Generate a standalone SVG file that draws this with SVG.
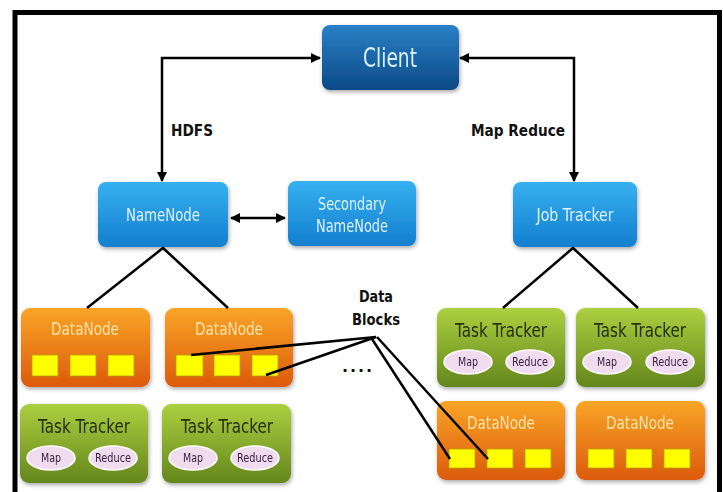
<svg xmlns="http://www.w3.org/2000/svg" width="723" height="492" viewBox="0 0 723 492">
<defs>
<linearGradient id="gClient" x1="0" y1="0" x2="0" y2="1"><stop offset="0" stop-color="#2a80c6"/><stop offset="1" stop-color="#0b4a86"/></linearGradient>
<linearGradient id="gBlue" x1="0" y1="0" x2="0" y2="1"><stop offset="0" stop-color="#36b0f0"/><stop offset="1" stop-color="#137fce"/></linearGradient>
<linearGradient id="gOrange" x1="0" y1="0" x2="0" y2="1"><stop offset="0" stop-color="#f9a526"/><stop offset="1" stop-color="#dc5a0c"/></linearGradient>
<linearGradient id="gGreen" x1="0" y1="0" x2="0" y2="1"><stop offset="0" stop-color="#acd040"/><stop offset="1" stop-color="#64861c"/></linearGradient>
<filter id="sh" x="-10%" y="-10%" width="130%" height="140%"><feGaussianBlur in="SourceAlpha" stdDeviation="2"/><feOffset dx="1" dy="2"/><feComponentTransfer><feFuncA type="linear" slope="0.35"/></feComponentTransfer><feMerge><feMergeNode/><feMergeNode in="SourceGraphic"/></feMerge></filter>
<marker id="ah" viewBox="0 0 10 10" refX="9" refY="5" markerWidth="4" markerHeight="4" orient="auto-start-reverse"><path d="M0,0 L10,5 L0,10 z" fill="#000"/></marker>
</defs>
<style>
.t{font-family:"DejaVu Sans",sans-serif;text-anchor:middle}
.lb{font-family:"DejaVu Sans",sans-serif;font-weight:bold;font-size:16px;fill:#111;text-anchor:middle}
.wb{fill:#dff2ff;font-size:18px}
.ob{fill:#ffe2a6;font-size:18px}
.gb{fill:#26300c;font-size:19px}
.el{fill:#efdcef;stroke:#fff;stroke-width:1.5}
.et{fill:#3a2040;font-size:13px}
.sq{fill:#ffff00;stroke:#b8a000;stroke-width:0.8}
.ln{stroke:#000;stroke-width:2.5;fill:none}
</style>
<rect x="0" y="0" width="723" height="492" fill="#fff"/>
<path d="M15,492 V12.5 H719.5 V492" fill="none" stroke="#000" stroke-width="5"/>

<g id="client" filter="url(#sh)">
<rect x="322" y="25" width="137" height="65" rx="8" fill="url(#gClient)"/>
<text class="t" x="390" y="67" font-size="26" fill="#d9f0ff" textLength="54" lengthAdjust="spacingAndGlyphs">Client</text>
</g>
<g id="namenode" filter="url(#sh)">
<rect x="98" y="182" width="130" height="65" rx="8" fill="url(#gBlue)"/>
<text class="t wb" x="163" y="221" textLength="74" lengthAdjust="spacingAndGlyphs">NameNode</text>
</g>
<g id="secondary-namenode" filter="url(#sh)">
<rect x="288" y="181" width="128" height="65" rx="8" fill="url(#gBlue)"/>
<text class="t wb" x="352" y="210" textLength="68" lengthAdjust="spacingAndGlyphs">Secondary</text>
<text class="t wb" x="352" y="232" textLength="72" lengthAdjust="spacingAndGlyphs">NameNode</text>
</g>
<g id="jobtracker" filter="url(#sh)">
<rect x="513" y="182" width="124" height="65" rx="8" fill="url(#gBlue)"/>
<text class="t wb" x="575" y="221" textLength="77" lengthAdjust="spacingAndGlyphs">Job Tracker</text>
</g>

<g id="datanode-1" filter="url(#sh)">
<rect x="21" y="308" width="129" height="79" rx="9" fill="url(#gOrange)"/>
<text class="t ob" x="85" y="335" textLength="68" lengthAdjust="spacingAndGlyphs">DataNode</text>
<rect class="sq" x="32" y="355" width="26" height="21"/><rect class="sq" x="70" y="355" width="26" height="21"/><rect class="sq" x="108" y="355" width="26" height="21"/>
</g>
<g id="datanode-2" filter="url(#sh)">
<rect x="165" y="308" width="128" height="79" rx="9" fill="url(#gOrange)"/>
<text class="t ob" x="229" y="335" textLength="68" lengthAdjust="spacingAndGlyphs">DataNode</text>
<rect class="sq" x="176" y="355" width="27" height="21"/><rect class="sq" x="214" y="355" width="26" height="21"/><rect class="sq" x="252" y="355" width="26" height="21"/>
</g>
<g id="tasktracker-1" filter="url(#sh)">
<rect x="20" y="404" width="128" height="79" rx="9" fill="url(#gGreen)"/>
<text class="t gb" x="84" y="433" textLength="92" lengthAdjust="spacingAndGlyphs">Task Tracker</text>
<ellipse class="el" cx="51" cy="458" rx="24" ry="12"/><text class="t et" x="51" y="462" textLength="20" lengthAdjust="spacingAndGlyphs">Map</text>
<ellipse class="el" cx="113" cy="458" rx="24" ry="12"/><text class="t et" x="113" y="462" textLength="36" lengthAdjust="spacingAndGlyphs">Reduce</text>
</g>
<g id="tasktracker-2" filter="url(#sh)">
<rect x="162" y="404" width="129" height="79" rx="9" fill="url(#gGreen)"/>
<text class="t gb" x="227" y="433" textLength="92" lengthAdjust="spacingAndGlyphs">Task Tracker</text>
<ellipse class="el" cx="193" cy="458" rx="24" ry="12"/><text class="t et" x="193" y="462" textLength="20" lengthAdjust="spacingAndGlyphs">Map</text>
<ellipse class="el" cx="255" cy="458" rx="24" ry="12"/><text class="t et" x="255" y="462" textLength="36" lengthAdjust="spacingAndGlyphs">Reduce</text>
</g>
<g id="tasktracker-3" filter="url(#sh)">
<rect x="437" y="308" width="128" height="79" rx="9" fill="url(#gGreen)"/>
<text class="t gb" x="501" y="337" textLength="92" lengthAdjust="spacingAndGlyphs">Task Tracker</text>
<ellipse class="el" cx="468" cy="362" rx="24" ry="12"/><text class="t et" x="468" y="366" textLength="20" lengthAdjust="spacingAndGlyphs">Map</text>
<ellipse class="el" cx="530" cy="362" rx="24" ry="12"/><text class="t et" x="530" y="366" textLength="36" lengthAdjust="spacingAndGlyphs">Reduce</text>
</g>
<g id="tasktracker-4" filter="url(#sh)">
<rect x="576" y="308" width="129" height="79" rx="9" fill="url(#gGreen)"/>
<text class="t gb" x="640" y="337" textLength="92" lengthAdjust="spacingAndGlyphs">Task Tracker</text>
<ellipse class="el" cx="607" cy="362" rx="24" ry="12"/><text class="t et" x="607" y="366" textLength="20" lengthAdjust="spacingAndGlyphs">Map</text>
<ellipse class="el" cx="670" cy="362" rx="24" ry="12"/><text class="t et" x="670" y="366" textLength="36" lengthAdjust="spacingAndGlyphs">Reduce</text>
</g>
<g id="datanode-3" filter="url(#sh)">
<rect x="437" y="401" width="128" height="79" rx="9" fill="url(#gOrange)"/>
<text class="t ob" x="501" y="429" textLength="68" lengthAdjust="spacingAndGlyphs">DataNode</text>
<rect class="sq" x="449" y="449" width="26" height="19"/><rect class="sq" x="487" y="449" width="26" height="19"/><rect class="sq" x="525" y="449" width="26" height="19"/>
</g>
<g id="datanode-4" filter="url(#sh)">
<rect x="576" y="401" width="129" height="79" rx="9" fill="url(#gOrange)"/>
<text class="t ob" x="640" y="429" textLength="68" lengthAdjust="spacingAndGlyphs">DataNode</text>
<rect class="sq" x="588" y="449" width="26" height="19"/><rect class="sq" x="626" y="449" width="26" height="19"/><rect class="sq" x="664" y="449" width="26" height="19"/>
</g>

<g id="connectors">
<path class="ln" d="M162,181 V58 H320" marker-start="url(#ah)" marker-end="url(#ah)"/>
<path class="ln" d="M574,181 V58 H460" marker-start="url(#ah)" marker-end="url(#ah)"/>
<path class="ln" d="M231,218 H285" stroke-width="3" marker-start="url(#ah)" marker-end="url(#ah)"/>
<path class="ln" d="M87,308 L163,248 L228,308"/>
<path class="ln" d="M503,308 L573,248 L638,308"/>
<path class="ln" d="M191,355 L376,337 L266,375"/>
<path class="ln" d="M372,339 L450,459"/>
<path class="ln" d="M377,337 L488,459"/>
<text class="lb" x="192" y="136" textLength="42" lengthAdjust="spacingAndGlyphs">HDFS</text>
<text class="lb" x="518" y="136" textLength="94" lengthAdjust="spacingAndGlyphs">Map Reduce</text>
<text class="lb" x="376" y="302" textLength="34" lengthAdjust="spacingAndGlyphs">Data</text>
<text class="lb" x="376" y="325" textLength="48" lengthAdjust="spacingAndGlyphs">Blocks</text>
<text class="lb" x="357" y="372" font-size="22" textLength="30" lengthAdjust="spacing">....</text>
</g>
</svg>
